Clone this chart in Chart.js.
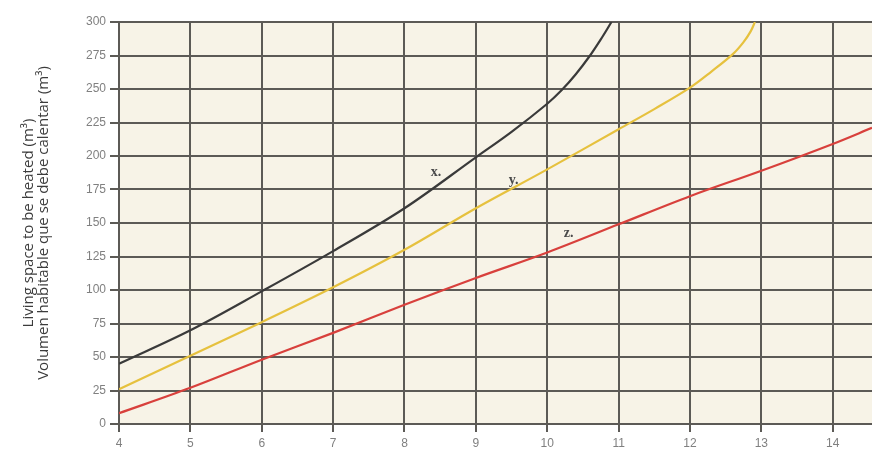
<!DOCTYPE html>
<html>
<head>
<meta charset="utf-8">
<script src="https://cdn.jsdelivr.net/npm/chart.js@4.4.1/dist/chart.umd.min.js"></script>
<style>
  html, body { margin: 0; padding: 0; background: #ffffff; }
  #wrap { width: 872px; height: 449px; }
</style>
</head>
<body>
<div id="wrap"><canvas id="chart" width="872" height="449"></canvas></div>
<script>
// curve x. (dark)
const curveXx = [4, 5, 6, 7, 8, 9, 9.5, 10, 10.2, 10.4, 10.6, 10.75, 10.9];
const curveXy = [45, 70, 99, 129, 161, 199, 218, 239, 249, 261, 275, 287, 300];
// curve y. (yellow)
const curveYx = [4, 5, 6, 7, 8, 9, 10, 11, 11.5, 12, 12.3, 12.6, 12.75, 12.85, 12.91];
const curveYy = [26, 51, 76, 102, 130, 161, 190, 220, 235, 251, 263, 276, 285, 293, 300];
// curve z. (red)
const curveZx = [4, 5, 6, 7, 8, 9, 10, 11, 12, 13, 14, 14.55];
const curveZy = [8, 27, 48, 68, 89, 109, 128, 149, 170, 189, 209, 221];

const curveNames = ["x.", "y.", "z."];
// where each curve name sits, in data units
const nameAtX = [8.44, 9.53, 10.3];
const nameAtY = [188, 182, 142];

const axisTitle = [
    "Living space to be heated (m\u00B3)",
    "Volumen habitable que se debe calentar (m\u00B3)"
];

const colors = ["#3a3a3a", "#e6c13e", "#d8403c"];

function toPoints(xs, ys) {
    return xs.map((x, i) => ({ x: x, y: ys[i] }));
}

const plotBackground = {
    id: "plotBackground",
    beforeDraw(chart) {
        const a = chart.chartArea;
        const ctx = chart.ctx;
        ctx.save();
        ctx.fillStyle = "#f7f3e7";
        ctx.fillRect(a.left, a.top, a.right - a.left, a.bottom - a.top);
        ctx.restore();
    }
};

const curveLabels = {
    id: "curveLabels",
    afterDatasetsDraw(chart) {
        const ctx = chart.ctx;
        const sx = chart.scales.x;
        const sy = chart.scales.y;
        ctx.save();
        ctx.font = "bold 14px 'Liberation Serif', 'DejaVu Serif', serif";
        ctx.fillStyle = "#4a4a4a";
        ctx.textAlign = "center";
        ctx.textBaseline = "middle";
        curveNames.forEach((name, i) => {
            ctx.fillText(name, sx.getPixelForValue(nameAtX[i]), sy.getPixelForValue(nameAtY[i]));
        });
        ctx.restore();
    }
};

const datasets = [
    toPoints(curveXx, curveXy),
    toPoints(curveYx, curveYy),
    toPoints(curveZx, curveZy)
].map((pts, i) => ({
    label: curveNames[i],
    data: pts,
    borderColor: colors[i],
    borderWidth: 2.2,
    pointRadius: 0,
    fill: false,
    tension: 0.35
}));

const gridColor = "#5c5a56";
const tickFont = { family: "'Liberation Sans', Arial, sans-serif", size: 12 };

new Chart(document.getElementById("chart").getContext("2d"), {
    type: "line",
    data: { datasets: datasets },
    options: {
        responsive: false,
        animation: false,
        layout: { padding: { top: 22, right: 0, bottom: 0, left: 0 } },
        plugins: {
            legend: { display: false },
            tooltip: { enabled: false }
        },
        scales: {
            x: {
                type: "linear",
                min: 4,
                max: 14.55,
                ticks: {
                    stepSize: 1,
                    includeBounds: false,
                    color: "#808080",
                    font: tickFont,
                    padding: 4,
                    maxRotation: 0
                },
                grid: {
                    color: gridColor,
                    lineWidth: 2,
                    tickLength: 8,
                    tickColor: gridColor
                },
                border: { color: gridColor, width: 2 },
                afterFit(scale) {
                    scale.height = 25;
                }
            },
            y: {
                min: 0,
                max: 300,
                ticks: {
                    stepSize: 25,
                    color: "#808080",
                    font: tickFont,
                    padding: 4
                },
                grid: {
                    color: gridColor,
                    lineWidth: 2,
                    tickLength: 9,
                    tickColor: gridColor
                },
                border: { color: gridColor, width: 2 },
                title: {
                    display: true,
                    text: axisTitle,
                    color: "#3c3c3c",
                    font: { family: "'Open Sans', sans-serif", size: 15, lineHeight: 1.0 },
                    padding: { top: 21, bottom: 0 }
                },
                afterFit(scale) {
                    scale.width = 119;
                }
            }
        }
    },
    plugins: [plotBackground, curveLabels]
});
</script>
</body>
</html>
